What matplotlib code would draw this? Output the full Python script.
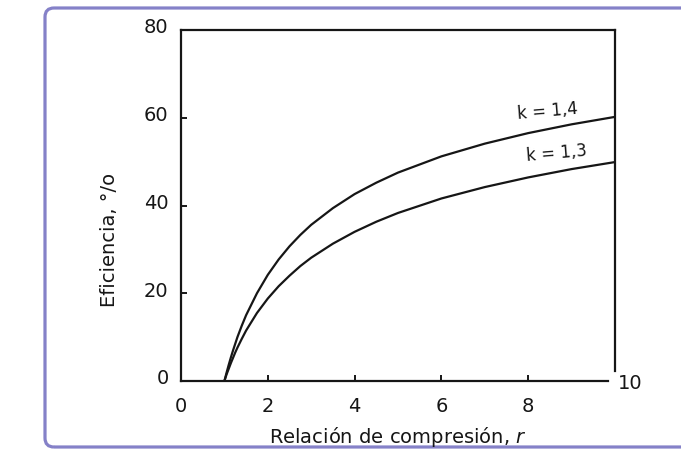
import matplotlib
matplotlib.use("Agg")
import matplotlib.pyplot as plt
from matplotlib.patches import FancyBboxPatch
from matplotlib.transforms import IdentityTransform, ScaledTranslation

# Data (compression ratio r vs efficiency %)
r_vals = [1.0, 1.05, 1.1, 1.15, 1.2, 1.25, 1.3, 1.4, 1.5, 1.75, 2.0, 2.25, 2.5,
          2.75, 3.0, 3.5, 4.0, 4.5, 5.0, 6.0, 7.0, 8.0, 9.0, 10.0]
eff_k14 = [0.0, 1.9, 3.7, 5.4, 7.0, 8.5, 10.0, 12.6, 15.0, 20.0, 24.2, 27.7, 30.7,
           33.3, 35.6, 39.4, 42.6, 45.2, 47.5, 51.2, 54.1, 56.5, 58.5, 60.2]
eff_k13 = [0.0, 1.5, 2.8, 4.1, 5.3, 6.5, 7.6, 9.6, 11.5, 15.5, 18.8, 21.6, 24.0,
           26.2, 28.1, 31.3, 34.0, 36.3, 38.3, 41.6, 44.2, 46.4, 48.3, 49.9]
x_ticks = [0, 2, 4, 6, 8]
y_ticks = [0, 20, 40, 60, 80]
label_k14 = "k = 1,4"
label_k13 = "k = 1,3"

plt.rcParams['font.family'] = ['DejaVu Sans']

W, H = 681, 456
fig = plt.figure(figsize=(W / 100, H / 100), dpi=100)
fig.patch.set_facecolor("white")

# rounded frame around the figure
frame = FancyBboxPatch((45, 8), 700, 439, boxstyle="round,pad=0,rounding_size=9",
                       transform=IdentityTransform(), facecolor="none",
                       edgecolor="#8581c8", linewidth=2.3, zorder=-5)
fig.patches.append(frame)

ax = fig.add_axes([181 / W, (H - 382) / H, (615 - 181) / W, (382 - 31) / H])
ax.set_facecolor("none")
ax.set_zorder(2)

ink = "#161616"
ax.plot(r_vals, eff_k14, color=ink, lw=1.6, solid_capstyle="butt")
ax.plot(r_vals, eff_k13, color=ink, lw=1.6, solid_capstyle="butt")

ax.set_xlim(0, 10)
ax.set_ylim(0, 80)

for s in ax.spines.values():
    s.set_linewidth(1.6)
    s.set_color(ink)
ax.spines['right'].set_bounds(2.3, 80)
ax.spines['bottom'].set_bounds(0, 9.85)

ax.set_xticks(x_ticks)
ax.set_yticks(y_ticks)
ax.tick_params(axis='both', direction='in', length=4, width=1.4, color=ink,
               labelsize=14, labelcolor=ink)
ax.tick_params(axis='x', pad=11)
ax.tick_params(axis='y', pad=9)

off = ScaledTranslation(0, 5 / 100, fig.dpi_scale_trans)
for lab in ax.get_yticklabels():
    lab.set_transform(lab.get_transform() + off)

ax.annotate("10", xy=(10, 0), xycoords='data', xytext=(11, -1),
            textcoords='offset points', ha='center', va='center',
            fontsize=14, color=ink, annotation_clip=False)

ax.text(8.44, 61.6, label_k14, ha='center', va='center', fontsize=12,
        color=ink, rotation=5)
ax.text(8.66, 52.1, label_k13, ha='center', va='center', fontsize=12,
        color=ink, rotation=5)

ax.set_xlabel("Relación de compresión, $r$", fontsize=14, color=ink, va='center')
ax.xaxis.set_label_coords(0.5, (382 - 437) / 351)
ax.set_ylabel("Eficiencia, °/o", fontsize=14, color=ink, va='center')
ax.yaxis.set_label_coords((109 - 181) / 434, (382 - 240) / 351)

fig.savefig("out.png", dpi=100)
